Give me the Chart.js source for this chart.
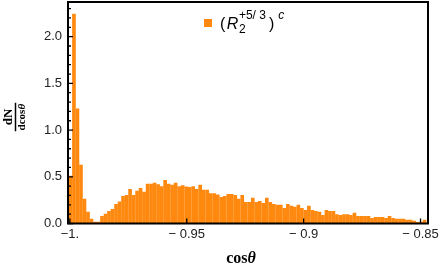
<!DOCTYPE html>
<html>
<head>
<meta charset="utf-8">
<script src="https://cdn.jsdelivr.net/npm/chart.js@4.4.0/dist/chart.umd.min.js"></script>
<style>
  html, body { margin: 0; padding: 0; background: #fff; }
  #wrap { width: 442px; height: 269px; }
</style>
</head>
<body>
<div id="wrap"><canvas id="histChart" width="442" height="269"></canvas></div>
<script>
// histogram bins (cos theta): left edge of first bin and bin width
const binStart = -1.0005;
const binWidth = 0.0015;

// dN/dcos(theta) for each bin
const binValues = [
  0.51, 2.245, 1.23, 0.63, 0.265, 0.125, 0.05, 0.02, 0.02, 0.08,
  0.105, 0.135, 0.155, 0.21, 0.235, 0.295, 0.305, 0.37, 0.305, 0.35,
  0.38, 0.34, 0.425, 0.425, 0.435, 0.42, 0.40, 0.465, 0.425, 0.415,
  0.435, 0.40, 0.41, 0.395, 0.39, 0.40, 0.37, 0.415, 0.36, 0.36,
  0.325, 0.325, 0.31, 0.285, 0.295, 0.315, 0.315, 0.305, 0.265, 0.305,
  0.23, 0.23, 0.275, 0.23, 0.24, 0.22, 0.275, 0.23, 0.21, 0.20,
  0.20, 0.165, 0.21, 0.19, 0.18, 0.20, 0.165, 0.145, 0.19, 0.145,
  0.135, 0.125, 0.09, 0.145, 0.135, 0.135, 0.10, 0.09, 0.10, 0.10,
  0.09, 0.115, 0.08, 0.08, 0.08, 0.08, 0.06, 0.07, 0.07, 0.07,
  0.06, 0.08, 0.06, 0.05, 0.05, 0.05, 0.04, 0.04, 0.03, 0.015,
  0.02, 0.04
];

const xTickValues = [-1, -0.95, -0.9, -0.85];
const xTickLabels = ['\u22121.', '\u2212 0.95', '\u2212 0.9', '\u2212 0.85'];
const yTickValues = [0, 0.5, 1, 1.5, 2];
const yTickLabels = ['0.0', '0.5', '1.0', '1.5', '2.0'];
const yMinorTicks = [0.1, 0.2, 0.3, 0.4, 0.6, 0.7, 0.8, 0.9, 1.1, 1.2, 1.3, 1.4,
                     1.6, 1.7, 1.8, 1.9, 2.1, 2.2, 2.3];

const barColor = 'rgb(255, 136, 14)';

// bar centres built from the bin edges
const histData = binValues.map((v, i) => ({ x: binStart + binWidth * (i + 0.5), y: v }));

// frame, inward ticks and rich-text labels (fraction, theta, legend)
const decorPlugin = {
    id: 'decor',
    afterDatasetsDraw(chart) {
        const ctx = chart.ctx;
        const a = chart.chartArea;
        const xs = chart.scales.x;
        const ys = chart.scales.y;
        ctx.save();
        ctx.strokeStyle = '#000';

        // ticks
        ctx.lineWidth = 1.3;
        ctx.beginPath();
        yTickValues.forEach(v => {
            const py = ys.getPixelForValue(v);
            ctx.moveTo(a.left, py);
            ctx.lineTo(a.left + 5, py);
        });
        yMinorTicks.forEach(v => {
            const py = ys.getPixelForValue(v);
            ctx.moveTo(a.left, py);
            ctx.lineTo(a.left + 3, py);
        });
        xTickValues.forEach(v => {
            const px = xs.getPixelForValue(v);
            ctx.moveTo(px, a.bottom);
            ctx.lineTo(px, a.bottom - 5);
        });
        ctx.stroke();

        // frame
        ctx.lineWidth = 2;
        ctx.strokeRect(a.left, a.top, a.right - a.left, a.bottom - a.top);

        // x title: cos theta
        ctx.fillStyle = '#000';
        ctx.textBaseline = 'alphabetic';
        ctx.font = 'bold 16px "Liberation Serif"';
        const w1 = ctx.measureText('cos').width;
        ctx.font = 'italic bold 16px "Liberation Serif"';
        const w2 = ctx.measureText('\u03b8').width;
        let tx = 241 - (w1 + w2) / 2;
        ctx.font = 'bold 16px "Liberation Serif"';
        ctx.fillText('cos', tx, 263);
        ctx.font = 'italic bold 16px "Liberation Serif"';
        ctx.fillText('\u03b8', tx + w1, 263);

        // y title: dN / dcos theta, rotated
        ctx.save();
        ctx.translate(15, 117);
        ctx.rotate(-Math.PI / 2);
        ctx.textAlign = 'center';
        ctx.font = 'bold 13px "Liberation Serif"';
        ctx.fillText('dN', 0, -3);
        ctx.font = 'bold 11px "Liberation Serif"';
        const dw = ctx.measureText('dcos\u03b8').width;
        ctx.fillText('dcos', -3, 10);
        ctx.font = 'italic bold 11px "Liberation Serif"';
        ctx.fillText('\u03b8', dw / 2 - 3, 10);
        ctx.lineWidth = 1.5;
        ctx.beginPath();
        ctx.moveTo(-dw / 2 - 1, 0.5);
        ctx.lineTo(dw / 2 + 1, 0.5);
        ctx.stroke();
        ctx.restore();

        // legend
        ctx.fillStyle = barColor;
        ctx.fillRect(204, 19, 8, 8);
        ctx.fillStyle = '#000';
        ctx.textAlign = 'left';
        let lx = 220;
        const base = 29;
        ctx.font = '16px "Liberation Sans"';
        ctx.fillText('(', lx, base);
        lx += ctx.measureText('(').width + 1.5;
        ctx.font = 'italic 16px "Liberation Sans"';
        ctx.fillText('R', lx, base);
        lx += ctx.measureText('R').width + 0.5;
        ctx.font = '12px "Liberation Sans"';
        ctx.fillText('2', lx, base + 4);
        ctx.fillText('+5/ 3', lx, base - 10);
        lx += ctx.measureText('+5/ 3').width + 3;
        ctx.font = '16px "Liberation Sans"';
        ctx.fillText(')', lx, base);
        lx += ctx.measureText(')').width + 4;
        ctx.font = 'italic 12px "Liberation Sans"';
        ctx.fillText('c', lx, base - 10);

        ctx.restore();
    }
};

new Chart(document.getElementById('histChart'), {
    type: 'bar',
    data: {
        datasets: [{
            data: histData,
            backgroundColor: barColor,
            borderWidth: 0,
            barPercentage: 1.04,
            categoryPercentage: 1
        }]
    },
    options: {
        responsive: false,
        animation: false,
        layout: { padding: { left: 0, right: 14, top: 2, bottom: 0 } },
        plugins: { legend: { display: false }, tooltip: { enabled: false } },
        scales: {
            x: {
                type: 'linear',
                offset: false,
                min: -1.0008,
                max: -0.8468,
                grid: { display: false, drawTicks: false },
                border: { display: false },
                afterBuildTicks: scale => { scale.ticks = xTickValues.map(v => ({ value: v })); },
                afterFit: scale => { scale.height = 45.5; scale.paddingLeft = 0; scale.paddingRight = 0; },
                ticks: {
                    autoSkip: false,
                    maxRotation: 0,
                    padding: 3,
                    color: '#222',
                    font: { family: '"Liberation Sans"', size: 13 },
                    callback: (v, i) => xTickLabels[i]
                }
            },
            y: {
                min: 0,
                max: 2.371,
                grid: { display: false, drawTicks: false },
                border: { display: false },
                afterBuildTicks: scale => { scale.ticks = yTickValues.map(v => ({ value: v })); },
                afterFit: scale => { scale.width = 68; scale.paddingTop = 0; scale.paddingBottom = 0; },
                ticks: {
                    padding: 6,
                    color: '#222',
                    font: { family: '"Liberation Sans"', size: 13 },
                    callback: (v, i) => yTickLabels[i]
                }
            }
        }
    },
    plugins: [decorPlugin]
});
</script>
</body>
</html>
